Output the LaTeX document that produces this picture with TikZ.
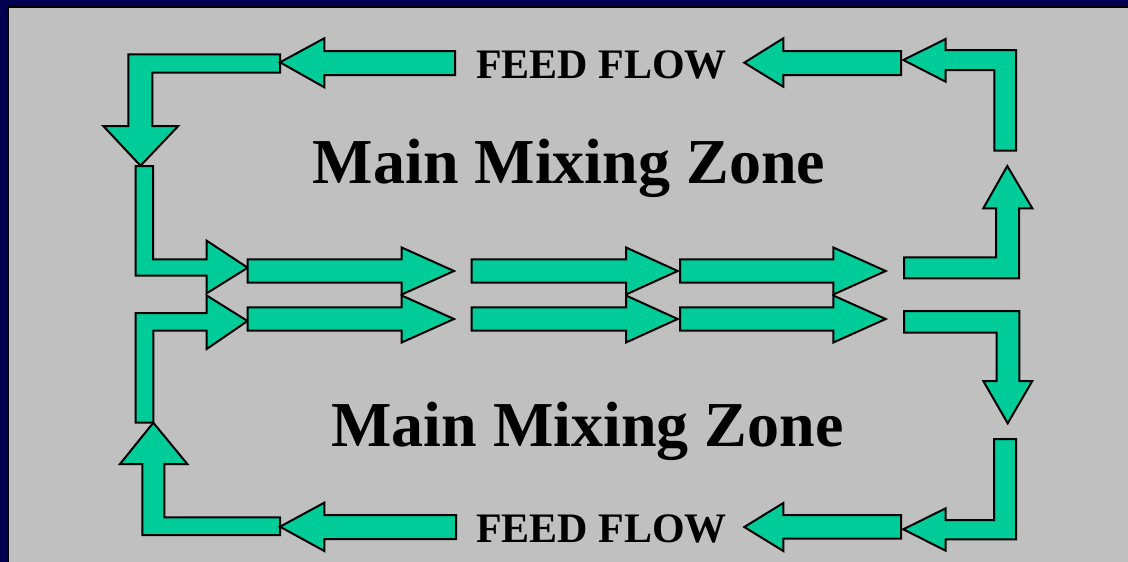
\documentclass[tikz,border=0pt]{standalone}
\usepackage{fontspec}
\setmainfont{Liberation Serif}
\definecolor{navy}{RGB}{0,0,80}
\definecolor{flowgreen}{RGB}{0,204,153}
\definecolor{bggray}{RGB}{192,192,192}
\newcommand\rarrow[4]{\draw[blk] (#1,{#4-11.6}) -- (#2,{#4-11.6}) -- (#2,{#4-23.5}) -- (#3,#4) -- (#2,{#4+23.5}) -- (#2,{#4+11.6}) -- (#1,{#4+11.6}) -- cycle;}
\tikzset{
  blk/.style={fill=flowgreen, draw=black, line width=2pt, line join=miter},
  smalltxt/.style={anchor=base, inner sep=0pt, font=\bfseries\fontsize{42}{48}\selectfont},
  bigtxt/.style={anchor=base, inner sep=0pt, font=\bfseries\fontsize{64}{70}\selectfont}
}
\begin{document}
\begin{tikzpicture}[x=1pt,y=-1pt]
\useasboundingbox (0,0) rectangle (1128,562);
% frame
\fill[navy] (0,0) rectangle (1128,562);
\fill[black] (6.5,5.5) rectangle (1128,562);
\fill[bggray] (8.7,7.7) rectangle (1128,562);
% top-left L with down arrow
\draw[blk] (280,54.3) -- (128.3,54.3) -- (128.3,126) -- (103.3,126) -- (140.5,165.7) -- (178.3,126) -- (152.3,126) -- (152.3,72.7) -- (280,72.7) -- cycle;
% top feed flow arrows
\draw[blk] (280,62.3) -- (324.3,38.3) -- (324.3,51) -- (455,51) -- (455,75) -- (324.3,75) -- (324.3,87.3) -- cycle;
\draw[blk] (744.3,62.7) -- (783.3,38.3) -- (783.3,51) -- (901,51) -- (901,75) -- (783.3,75) -- (783.3,86.7) -- cycle;
% top-right L
\draw[blk] (903.3,60) -- (945.7,39) -- (945.7,50) -- (1016,50) -- (1016,150.7) -- (994.3,150.7) -- (994.3,70) -- (945.7,70) -- (945.7,81.7) -- cycle;
% left upper L into mixing
\draw[blk] (135.7,166) -- (153,166) -- (153,259.3) -- (206.7,259.3) -- (206.7,240.7) -- (247.7,267.7) -- (206.7,293.3) -- (206.7,275.7) -- (135.7,275.7) -- cycle;
% left lower L into mixing
\draw[blk] (135.7,422.7) -- (135.7,313) -- (206.7,313) -- (206.7,295.5) -- (247.5,321) -- (206.7,349) -- (206.7,330.7) -- (153.3,330.7) -- (153.3,422.7) -- cycle;
% bottom-left up arrow L
\draw[blk] (153.3,422.7) -- (187.3,464) -- (164.3,464) -- (164.3,517.3) -- (280,517.3) -- (280,535) -- (142.3,535) -- (142.3,464) -- (120,464) -- cycle;
% bottom feed flow arrows
\draw[blk] (280,526.7) -- (324.3,502.7) -- (324.3,515) -- (456,515) -- (456,539) -- (324.3,539) -- (324.3,551) -- cycle;
\draw[blk] (744.3,527) -- (783.3,503) -- (783.3,515) -- (901,515) -- (901,538.5) -- (783.3,538.5) -- (783.3,551) -- cycle;
% bottom-right L
\draw[blk] (903.3,529.3) -- (945.7,508.3) -- (945.7,520) -- (994,520) -- (994,439) -- (1016,439) -- (1016,539.3) -- (945.7,539.3) -- (945.7,550.7) -- cycle;
% right L going down
\draw[blk] (904,311) -- (1019.3,311) -- (1019.3,381) -- (1032.3,381) -- (1007.7,423.3) -- (983.3,381) -- (996.7,381) -- (996.7,332.7) -- (904,332.7) -- cycle;
% right L going up
\draw[blk] (904,278.3) -- (1019,278.3) -- (1019,208.3) -- (1032.3,208.3) -- (1007.3,166) -- (983.3,208.3) -- (996,208.3) -- (996,257.3) -- (904,257.3) -- cycle;
% middle arrows
\rarrow{247.7}{401.7}{454}{271}
\rarrow{471.7}{626}{677.7}{271}
\rarrow{680}{833.3}{885.7}{271}
\rarrow{247.7}{401.7}{454}{319}
\rarrow{471.7}{626}{677.7}{319}
\rarrow{680}{833.3}{885.7}{319}
% texts
\node[smalltxt] (fftop) at (601.5,78.3) {FEED FLOW};
\node[smalltxt] (ffbot) at (601.5,542.5) {FEED FLOW};
\node[bigtxt] (mztop) at (569,183) {Main Mixing Zone};
\node[bigtxt] (mzbot) at (587.5,446) {Main Mixing Zone};
\end{tikzpicture}
\end{document}
